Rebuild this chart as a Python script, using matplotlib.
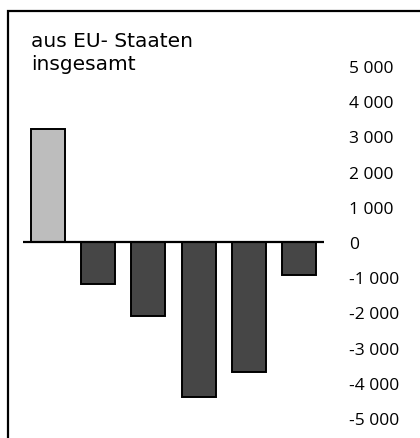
import matplotlib
matplotlib.use("Agg")
import matplotlib.pyplot as plt
from matplotlib.patches import Rectangle

# data
values = [3200, -1200, -2100, -4400, -3700, -950]
colors = ["#bdbdbd", "#464646", "#464646", "#464646", "#464646", "#464646"]
ticks = [5000, 4000, 3000, 2000, 1000, 0, -1000, -2000, -3000, -4000, -5000]
tick_labels = ["5 000", "4 000", "3 000", "2 000", "1 000", "0",
               "-1 000", "-2 000", "-3 000", "-4 000", "-5 000"]
title_lines = ["aus EU- Staaten", "insgesamt"]

plt.rcParams['font.family'] = ['Open Sans', 'DejaVu Sans']

W, H = 420, 439
fig = plt.figure(figsize=(W/100, H/100), dpi=100)

# frame (only left and top edge are visible in the picture)
fig.patches.append(Rectangle((8/W, -0.1), 1.2, 1 - 12/H + 0.1, transform=fig.transFigure,
                             fill=False, edgecolor="black", linewidth=1.6))

ax = fig.add_axes([23/W, 1 - 419/H, 301/W, 352/H])
x = range(len(values))
ax.bar(x, values, width=0.68, color=colors, edgecolor="black", linewidth=1.4, zorder=2)
ax.axhline(0, color="black", linewidth=1.6, zorder=3)
ax.set_xlim(-0.5, 5.5)
ax.set_ylim(-5000, 5000)
ax.set_xticks([])
ax.yaxis.tick_right()
ax.set_yticks(ticks)
ax.set_yticklabels(tick_labels, fontsize=12.5, ha="left")
ax.tick_params(axis="y", length=0, pad=18)
for s in ax.spines.values():
    s.set_visible(False)
ax.patch.set_visible(False)

for i, line in enumerate(title_lines):
    fig.text(31/W, 1 - (47 + 23*i)/H, line, fontsize=14.5, family="DejaVu Sans",
             ha="left", va="baseline")

fig.savefig("out.png", dpi=100)
